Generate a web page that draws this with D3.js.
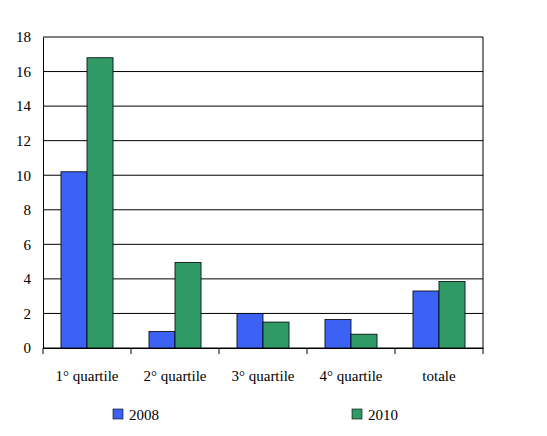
<!DOCTYPE html><html><head><script src="https://cdn.jsdelivr.net/npm/d3@7"></script>
<style>body{margin:0;background:#fff} svg text{font-family:"Liberation Serif","DejaVu Serif",serif !important;}</style></head><body><svg id="c" width="547" height="436"></svg>
<script>
const categories=["1° quartile","2° quartile","3° quartile","4° quartile","totale"];
const series=["2008","2010"];
const v2008=[10.2,0.95,2.0,1.65,3.3];
const v2010=[16.8,4.95,1.5,0.8,3.85];
const yTicks=[0,2,4,6,8,10,12,14,16,18];
const colors=["#3b62f2","#2f9a66"];
const svg=d3.select("#c"),L=43,R=483,T=37,B=348;
const x=d3.scaleBand().domain(categories).range([L,R]);
const y=d3.scaleLinear().domain([0,18]).range([B,T]);
const xs=d3.scaleBand().domain(series).range([0,x.bandwidth()]).paddingOuter(0.69);
svg.selectAll(".g").data(yTicks).join("line").attr("x1",L).attr("x2",R).attr("y1",d=>y(d)).attr("y2",d=>y(d)).attr("stroke","#000");
svg.append("line").attr("x1",R).attr("x2",R).attr("y1",T).attr("y2",B).attr("stroke","#000");
const data=[v2008,v2010];
series.forEach((s,i)=>{svg.selectAll(".b"+i).data(categories).join("rect")
 .attr("x",d=>x(d)+xs(s)).attr("width",xs.bandwidth()).attr("y",(d,j)=>y(data[i][j])).attr("height",(d,j)=>B-y(data[i][j]))
 .attr("fill",colors[i]).attr("stroke","#000").attr("stroke-width",0.8);});
const ya=svg.append("g").attr("transform",`translate(${L},0)`).call(d3.axisLeft(y).tickValues(yTicks).tickSize(0).tickPadding(12));
ya.select(".domain").attr("stroke","#000");
ya.selectAll("text").attr("font-size",15).attr("fill","#000");
const xa=svg.append("g").attr("transform",`translate(0,${B})`).call(d3.axisBottom(x).tickSize(0).tickPadding(22));
xa.select(".domain").attr("stroke","#000");
xa.selectAll("text").attr("font-size",15).attr("fill","#000");
svg.selectAll(".tk").data(d3.range(categories.length+1)).join("line").attr("x1",d=>L+d*x.step()).attr("x2",d=>L+d*x.step()).attr("y1",B).attr("y2",B+6).attr("stroke","#000");
const lx=[113,352];
series.forEach((s,i)=>{svg.append("rect").attr("x",lx[i]).attr("y",409).attr("width",10).attr("height",10).attr("fill",colors[i]).attr("stroke","#000").attr("stroke-width",0.6);
 svg.append("text").attr("x",lx[i]+16).attr("y",420).text(s).attr("font-size",15);});
</script></body></html>
